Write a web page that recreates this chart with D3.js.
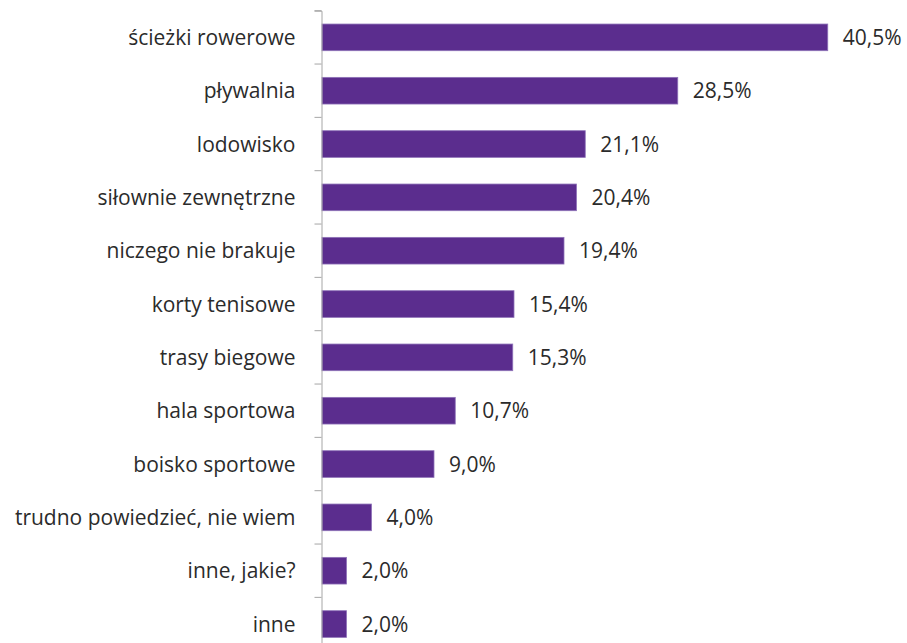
<!DOCTYPE html>
<html><head><meta charset="utf-8">
<script src="https://cdn.jsdelivr.net/npm/d3@7"></script>
<style>body{margin:0;background:#fff}svg{display:block}</style>
</head><body>
<svg id="c" width="907" height="643"></svg>
<script>
const categories = ["ścieżki rowerowe","pływalnia","lodowisko","siłownie zewnętrzne","niczego nie brakuje","korty tenisowe","trasy biegowe","hala sportowa","boisko sportowe","trudno powiedzieć, nie wiem","inne, jakie?","inne"];
const values = [40.5,28.5,21.1,20.4,19.4,15.4,15.3,10.7,9.0,4.0,2.0,2.0];
const valueLabels = ["40,5%","28,5%","21,1%","20,4%","19,4%","15,4%","15,3%","10,7%","9,0%","4,0%","2,0%","2,0%"];

const svg = d3.select("#c");
const axisX = 321.5;
const x = d3.scaleLinear().domain([0, 45]).range([axisX, axisX + 45*12.5]);
const y = d3.scaleBand().domain(categories).range([10.7, 650.7]).paddingInner(0.5).paddingOuter(0.25);

const g = svg.append("g");
g.selectAll("rect").data(values).join("rect")
  .attr("x", x(0)+0.5)
  .attr("y", (d,i)=>y(categories[i]))
  .attr("width", d=>x(d)-x(0)-0.5)
  .attr("height", y.bandwidth())
  .attr("fill","#5b2d8e")
  .attr("stroke","#8e72b8").attr("stroke-width",0.8);

g.selectAll("text.v").data(values).join("text").attr("class","v")
  .attr("x", d=>x(d)+15)
  .attr("y", (d,i)=>y(categories[i])+y.bandwidth()/2)
  .attr("dy","0.36em")
  .attr("font-family","Open Sans").attr("font-size",21).attr("fill","#2b2b2b")
  .text((d,i)=>valueLabels[i]);

const yAxis = d3.axisLeft(y).tickSize(7).tickSizeOuter(7);
const ax = svg.append("g").attr("transform",`translate(${axisX},0)`).call(yAxis);
ax.select(".domain").attr("stroke","#a6a6a6");
ax.selectAll(".tick").remove();
// boundary ticks between categories
const bounds = d3.range(categories.length+1).map(i=>10.7 + i*y.step());
ax.selectAll("line.b").data(bounds).join("line").attr("class","b")
  .attr("x1",-7).attr("x2",0).attr("y1",d=>d).attr("y2",d=>d).attr("stroke","#a6a6a6");
svg.append("g").selectAll("text").data(categories).join("text")
  .attr("x", axisX-26)
  .attr("y", d=>y(d)+y.bandwidth()/2)
  .attr("dy","0.36em").attr("text-anchor","end")
  .attr("font-family","Open Sans").attr("font-size",21).attr("fill","#2b2b2b")
  .text(d=>d);
</script>
</body></html>
